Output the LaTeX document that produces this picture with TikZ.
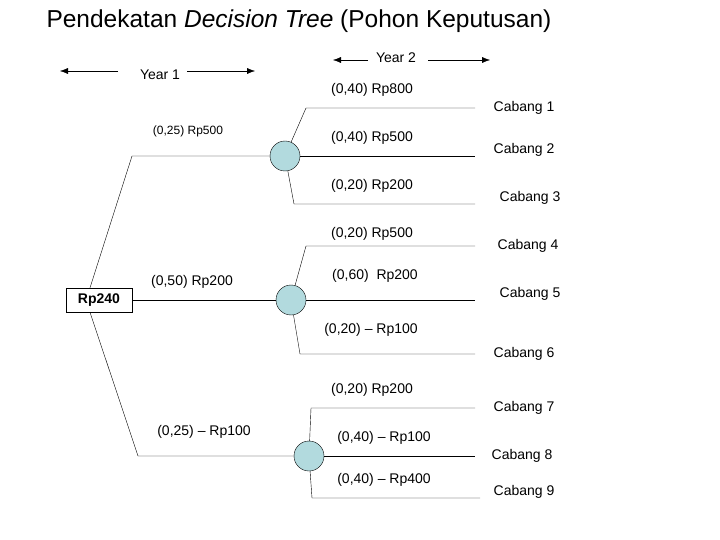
\documentclass[tikz,border=0pt]{standalone}
\usepackage{fontspec}
\setmainfont{Liberation Sans}
\usetikzlibrary{arrows.meta}

\begin{document}
\begin{tikzpicture}[x=1pt,y=-1pt]
	\tikzstyle{every node}=[font=\fontsize{14}{16}\selectfont]
	\tikzstyle{chance}=[circle, draw, fill={rgb,255:red,178;green,218;blue,222}, minimum size=30pt, inner sep=0pt]
	\tikzstyle{decision}=[draw, minimum width=66pt, minimum height=24pt, inner sep=0pt, font=\fontsize{14}{16}\selectfont\bfseries]
	\tikzstyle{span}=[-{Latex[length=8pt,width=6pt]}]
	\useasboundingbox (0,0) rectangle (720,540);

	\node [font=\fontsize{24.5}{28}\selectfont, anchor=west] at (43,21) {Pendekatan \textit{Decision Tree} (Pohon Keputusan)};

	% year markers
	\node (y1) at (160,75) {Year 1};
	\node (y2) at (396,58) {Year 2};
	\draw [span] (118,71) -- (60,71);
	\draw [span] (187,71) -- (255,71);
	\draw [span] (368,60) -- (333,60);
	\draw [span] (428,60) -- (490,60);

	% decision node and chance nodes
	\node [decision] (root) at (99,300) {Rp240};
	\node [chance] (c1) at (285,156) {};
	\node [chance] (c2) at (291,300) {};
	\node [chance] (c3) at (309,456) {};

	\draw ([xshift=-9pt]root.north) -- (132,156) -- (c1);
	\draw (root.east) -- (c2);
	\draw ([xshift=-9pt]root.south) -- (138,456) -- (c3);

	\node [font=\fontsize{12}{14}\selectfont] at (188,131) {(0,25) Rp500};
	\node at (192,282) {(0,50) Rp200};
	\node at (204,432) {(0,25) -- Rp100};

	% branches of c1
	\draw (c1) -- (306,108) -- (475,108);
	\draw (c1) -- (475,156);
	\draw (c1) -- (294,204) -- (475,204);
	% branches of c2
	\draw (c2) -- (306,246) -- (475,246);
	\draw (c2) -- (475,300);
	\draw (c2) -- (300,354) -- (475,354);
	% branches of c3
	\draw (c3) -- (311,408) -- (475,408);
	\draw (c3) -- (475,456);
	\draw (c3) -- (312,498) -- (480,498);

	\node at (372,90) {(0,40) Rp800};
	\node at (372,138) {(0,40) Rp500};
	\node at (372,186) {(0,20) Rp200};
	\node at (372,234) {(0,20) Rp500};
	\node at (375,276) {(0,60)\ \ Rp200};
	\node at (371,330) {(0,20) -- Rp100};
	\node at (372,390) {(0,20) Rp200};
	\node at (384,438) {(0,40) -- Rp100};
	\node at (384,480) {(0,40) -- Rp400};

	\node at (524,108) {Cabang 1};
	\node at (524,150) {Cabang 2};
	\node at (530,198) {Cabang 3};
	\node at (528,246) {Cabang 4};
	\node at (530,294) {Cabang 5};
	\node at (524,354) {Cabang 6};
	\node at (524,408) {Cabang 7};
	\node at (522,456) {Cabang 8};
	\node at (524,492) {Cabang 9};
\end{tikzpicture}
\end{document}
